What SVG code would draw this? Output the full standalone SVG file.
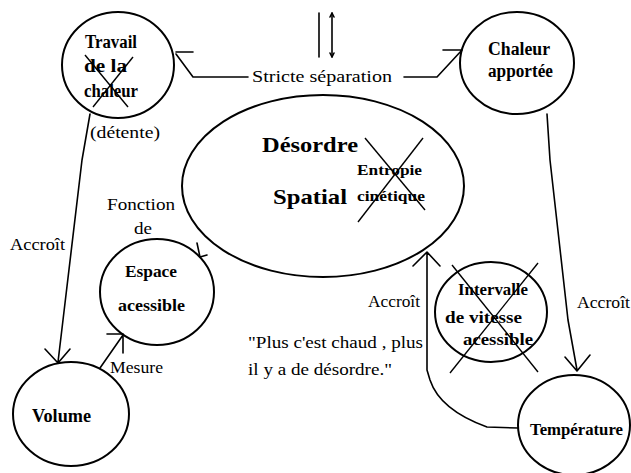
<svg xmlns="http://www.w3.org/2000/svg" width="631" height="473" viewBox="0 0 631 473">
<style>
.n{fill:none;stroke:#000;stroke-width:2}
.c{fill:none;stroke:#000;stroke-width:1.6;stroke-linecap:round;stroke-linejoin:round}
.x{fill:none;stroke:#000;stroke-width:1.4}
</style>
<rect width="631" height="473" fill="#fff"/>
<g id="connectors">
  <line class="c" x1="319" y1="13" x2="319" y2="57" stroke-width="2.2"/>
  <line class="c" x1="332" y1="13" x2="332" y2="57" stroke-width="1.2"/>
  <path class="c" d="M330 17 L332 13 L334 17 M330 53 L332 57 L334 53" stroke-width="1"/>
  <path class="c" d="M248 77 L193 77 L176 54 M176 52 L193 52"/>
  <path class="c" d="M404 77 L437 77 L462 50 M443 50 L462 50"/>
  <path class="c" d="M90 114 L82 160 L63 320 L58 362 M45 349 L58 363 L70 349"/>
  <path class="c" d="M547 114 L550 160 L568 320 L577 370 M565 357 L577 371 L590 355"/>
  <path class="c" d="M518 428 L487 427 Q440 410 430 380 L427 370 L427 253 M413 266 L427 252 L440 266"/>
  <path class="c" d="M197 243 L200 257 L207 255"/>
  <path class="c" d="M100 368 L123 335 M107 334 L123 334 L123 353"/>
</g>
<g id="travail">
  <ellipse class="n" cx="118" cy="65" rx="56" ry="53"/>
  <text font-family="Liberation Serif" font-weight="bold" font-size="18" x="85" y="48" textLength="52" lengthAdjust="spacingAndGlyphs">Travail</text>
  <text font-family="Liberation Serif" font-weight="bold" font-size="18" x="84" y="72" textLength="43" lengthAdjust="spacingAndGlyphs">de la</text>
  <text font-family="Liberation Serif" font-weight="bold" font-size="18" x="84" y="97" textLength="54" lengthAdjust="spacingAndGlyphs">chaleur</text>
  <line class="x" x1="85" y1="55" x2="128" y2="107"/>
  <line class="x" x1="133" y1="57" x2="93" y2="107"/>
</g>
<g id="chaleur">
  <ellipse class="n" cx="517" cy="63" rx="57" ry="51"/>
  <text font-family="Liberation Serif" font-weight="bold" font-size="18" x="488" y="55" textLength="62" lengthAdjust="spacingAndGlyphs">Chaleur</text>
  <text font-family="Liberation Serif" font-weight="bold" font-size="18" x="488" y="77" textLength="65" lengthAdjust="spacingAndGlyphs">apportée</text>
</g>
<g id="desordre">
  <ellipse class="n" cx="323" cy="186" rx="141" ry="91"/>
  <text font-family="Liberation Serif" font-weight="bold" font-size="22" x="262" y="152" textLength="96" lengthAdjust="spacingAndGlyphs">Désordre</text>
  <text font-family="Liberation Serif" font-weight="bold" font-size="22" x="273" y="204" textLength="74" lengthAdjust="spacingAndGlyphs">Spatial</text>
  <text font-family="Liberation Serif" font-weight="bold" font-size="15" x="357" y="175" textLength="65" lengthAdjust="spacingAndGlyphs">Entropie</text>
  <text font-family="Liberation Serif" font-weight="bold" font-size="15" x="357" y="201" textLength="68" lengthAdjust="spacingAndGlyphs">cinétique</text>
  <line class="x" x1="365" y1="138" x2="425" y2="210"/>
  <line class="x" x1="423" y1="138" x2="358" y2="222"/>
</g>
<g id="espace">
  <ellipse class="n" cx="157" cy="292" rx="57" ry="53"/>
  <text font-family="Liberation Serif" font-weight="bold" font-size="17" x="125" y="277" textLength="52" lengthAdjust="spacingAndGlyphs">Espace</text>
  <text font-family="Liberation Serif" font-weight="bold" font-size="17" x="118" y="311" textLength="67" lengthAdjust="spacingAndGlyphs">acessible</text>
</g>
<g id="volume">
  <ellipse class="n" cx="71" cy="414" rx="58" ry="52"/>
  <text font-family="Liberation Serif" font-weight="bold" font-size="18" x="32" y="422" textLength="59" lengthAdjust="spacingAndGlyphs">Volume</text>
</g>
<g id="intervalle">
  <ellipse class="n" cx="491" cy="312" rx="56" ry="50"/>
  <text font-family="Liberation Serif" font-weight="bold" font-size="17" x="458" y="295" textLength="70" lengthAdjust="spacingAndGlyphs">Intervalle</text>
  <text font-family="Liberation Serif" font-weight="bold" font-size="17" x="445" y="323" textLength="77" lengthAdjust="spacingAndGlyphs">de vitesse</text>
  <text font-family="Liberation Serif" font-weight="bold" font-size="17" x="463" y="345" textLength="70" lengthAdjust="spacingAndGlyphs">acessible</text>
  <line class="x" x1="452" y1="265" x2="538" y2="372"/>
  <line class="x" x1="538" y1="263" x2="450" y2="373"/>
</g>
<g id="temperature">
  <ellipse class="n" cx="574" cy="425" rx="56" ry="50"/>
  <text font-family="Liberation Serif" font-weight="bold" font-size="17" x="530" y="435" textLength="93" lengthAdjust="spacingAndGlyphs">Température</text>
</g>
<g id="labels">
  <text font-family="Liberation Serif" font-size="16" x="252" y="82" textLength="140" lengthAdjust="spacingAndGlyphs">Stricte séparation</text>
  <text font-family="Liberation Serif" font-size="16" x="90" y="138" textLength="70" lengthAdjust="spacingAndGlyphs">(détente)</text>
  <text font-family="Liberation Serif" font-size="16" x="107" y="210" textLength="68" lengthAdjust="spacingAndGlyphs">Fonction</text>
  <text font-family="Liberation Serif" font-size="16" x="134" y="234" textLength="18" lengthAdjust="spacingAndGlyphs">de</text>
  <text font-family="Liberation Serif" font-size="16" x="10" y="250" textLength="55" lengthAdjust="spacingAndGlyphs">Accroît</text>
  <text font-family="Liberation Serif" font-size="16" x="110" y="373" textLength="53" lengthAdjust="spacingAndGlyphs">Mesure</text>
  <text font-family="Liberation Serif" font-size="16" x="368" y="307" textLength="52" lengthAdjust="spacingAndGlyphs">Accroît</text>
  <text font-family="Liberation Serif" font-size="16" x="577" y="308" textLength="53" lengthAdjust="spacingAndGlyphs">Accroît</text>
  <text font-family="Liberation Serif" font-size="16" x="248" y="348" textLength="175" lengthAdjust="spacingAndGlyphs">"Plus c'est chaud , plus</text>
  <text font-family="Liberation Serif" font-size="16" x="248" y="375" textLength="144" lengthAdjust="spacingAndGlyphs">il y a de désordre."</text>
</g>
</svg>
